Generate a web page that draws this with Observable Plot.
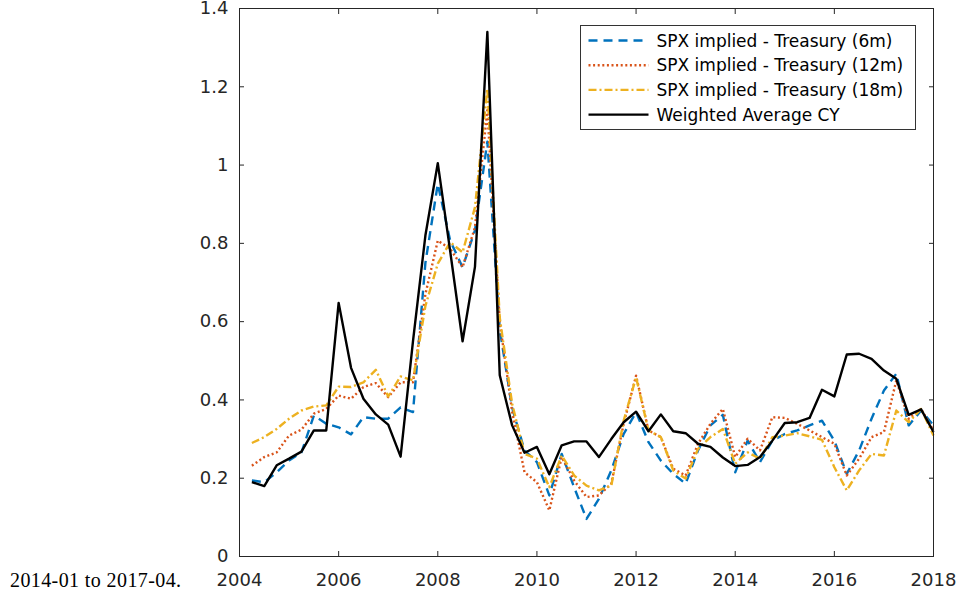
<!DOCTYPE html>
<html>
<head>
<meta charset="utf-8">
<script src="https://cdn.jsdelivr.net/npm/d3@7"></script>
<script src="https://cdn.jsdelivr.net/npm/@observablehq/plot@0.6"></script>
<style>
  html, body { margin: 0; padding: 0; background: #fff; }
  #chart { position: relative; width: 958px; height: 596px; }
</style>
</head>
<body>
<div id="chart"></div>
<script>
// ---- data ----
const quarters = [
  2004.25, 2004.5, 2004.75, 2005.0, 2005.25, 2005.5, 2005.75, 2006.0,
  2006.25, 2006.5, 2006.75, 2007.0, 2007.25, 2007.5, 2007.75, 2008.0,
  2008.25, 2008.5, 2008.75, 2009.0, 2009.25, 2009.5, 2009.75, 2010.0,
  2010.25, 2010.5, 2010.75, 2011.0, 2011.25, 2011.5, 2011.75, 2012.0,
  2012.25, 2012.5, 2012.75, 2013.0, 2013.25, 2013.5, 2013.75, 2014.0,
  2014.25, 2014.5, 2014.75, 2015.0, 2015.25, 2015.5, 2015.75, 2016.0,
  2016.25, 2016.5, 2016.75, 2017.0, 2017.25, 2017.5, 2017.75, 2018.0
];
const spx6m = [
  0.194, 0.190, 0.215, 0.245, 0.266, 0.360, 0.339, 0.330,
  0.312, 0.356, 0.352, 0.352, 0.381, 0.369, 0.750, 0.952,
  0.807, 0.739, 0.833, 1.060, 0.580, 0.380, 0.271, 0.241,
  0.156, 0.262, 0.177, 0.096, 0.147, 0.220, 0.313, 0.369,
  0.292, 0.245, 0.211, 0.186, 0.271, 0.335, 0.362, 0.215,
  0.296, 0.241, 0.296, 0.313, 0.322, 0.335, 0.347, 0.296,
  0.211, 0.271, 0.352, 0.424, 0.467, 0.335, 0.373, 0.335
];
const spx12m = [
  0.232, 0.254, 0.266, 0.309, 0.324, 0.365, 0.377, 0.411,
  0.403, 0.433, 0.443, 0.407, 0.445, 0.445, 0.670, 0.807,
  0.786, 0.739, 0.841, 1.140, 0.600, 0.370, 0.215, 0.190,
  0.118, 0.254, 0.194, 0.152, 0.156, 0.186, 0.339, 0.462,
  0.322, 0.305, 0.224, 0.207, 0.288, 0.339, 0.377, 0.254,
  0.301, 0.271, 0.356, 0.354, 0.339, 0.322, 0.305, 0.288,
  0.207, 0.250, 0.305, 0.318, 0.450, 0.352, 0.377, 0.322
];
const spx18m = [
  0.290, 0.305, 0.326, 0.352, 0.373, 0.383, 0.386, 0.434,
  0.433, 0.445, 0.477, 0.409, 0.460, 0.450, 0.640, 0.748,
  0.803, 0.777, 0.892, 1.195, 0.610, 0.390, 0.262, 0.250,
  0.177, 0.258, 0.207, 0.181, 0.169, 0.181, 0.347, 0.458,
  0.322, 0.305, 0.220, 0.199, 0.275, 0.305, 0.326, 0.237,
  0.266, 0.250, 0.305, 0.309, 0.315, 0.307, 0.298, 0.228,
  0.169, 0.220, 0.262, 0.258, 0.373, 0.343, 0.377, 0.309
];
const weightedCY = [
  0.190, 0.180, 0.233, 0.250, 0.268, 0.322, 0.322, 0.648,
  0.482, 0.403, 0.363, 0.337, 0.255, 0.550, 0.820, 1.005,
  0.780, 0.550, 0.740, 1.340, 0.463, 0.335, 0.265, 0.280,
  0.210, 0.284, 0.294, 0.294, 0.254, 0.300, 0.343, 0.370,
  0.320, 0.363, 0.320, 0.315, 0.288, 0.280, 0.253, 0.231,
  0.234, 0.254, 0.296, 0.341, 0.343, 0.354, 0.426, 0.409,
  0.516, 0.518, 0.505, 0.475, 0.454, 0.362, 0.376, 0.318
];
const seriesNames = [
  "SPX implied - Treasury (6m)",
  "SPX implied - Treasury (12m)",
  "SPX implied - Treasury (18m)",
  "Weighted Average CY"
];
const seriesColors = ["#0072BD", "#D95319", "#EDB120", "#000000"];
const seriesDash = ["9,6", "2,2.6", "8,3,2,3", null];
const xTicks = [2004, 2006, 2008, 2010, 2012, 2014, 2016, 2018];
const yTicks = [0, 0.2, 0.4, 0.6, 0.8, 1.0, 1.2, 1.4];
const yTickLabels = ["0", "0.2", "0.4", "0.6", "0.8", "1", "1.2", "1.4"];
const captionText = "2014-01 to 2017-04.";

// ---- build ----
const allSeries = [spx6m, spx12m, spx18m, weightedCY];
const lineMarks = allSeries.map((vals, i) =>
  Plot.line(quarters.map((q, j) => ({x: q, y: vals[j]})), {
    x: "x", y: "y",
    stroke: seriesColors[i],
    strokeWidth: 2.4,
    strokeDasharray: seriesDash[i] || undefined,
    strokeLinejoin: "round",
    strokeLinecap: "butt"
  })
);

const axisColor = "#262626";
const sansFont = "'DejaVu Sans', 'Liberation Sans', Arial, sans-serif";
const chart = Plot.plot({
  width: 958,
  height: 596,
  marginLeft: 239,
  marginRight: 25,
  marginTop: 8,
  marginBottom: 40,
  x: {domain: [2004, 2018]},
  y: {domain: [0, 1.4]},
  style: {
    fontFamily: sansFont,
    fontSize: "18px",
    color: axisColor,
    background: "#fff",
    overflow: "visible"
  },
  marks: [
    ...lineMarks,
    Plot.axisX({ticks: xTicks, tickSize: -5, tickPadding: 22, tickFormat: d => String(d), label: null, stroke: axisColor}),
    Plot.axisX({anchor: "top", ticks: xTicks, tickSize: -5, tickFormat: () => "", label: null, stroke: axisColor}),
    Plot.axisY({ticks: yTicks, tickSize: -5, tickPadding: 16, tickFormat: d => yTickLabels[yTicks.findIndex(t => Math.abs(t - d) < 1e-9)], label: null, stroke: axisColor}),
    Plot.axisY({anchor: "right", ticks: yTicks, tickSize: -5, tickFormat: () => "", label: null, stroke: axisColor}),
    Plot.frame({stroke: axisColor, strokeWidth: 1})
  ]
});
document.getElementById("chart").appendChild(chart);

// ---- legend and caption ----
const svg = d3.select(chart);
const lg = svg.append("g").attr("transform", "translate(580.5,25.5)");
lg.append("rect").attr("width", 335).attr("height", 104)
  .attr("fill", "#fff").attr("stroke", "#333").attr("stroke-width", 1);
seriesNames.forEach((name, i) => {
  const cy = 15 + i * 24.7;
  lg.append("line").attr("x1", 8).attr("x2", 68).attr("y1", cy).attr("y2", cy)
    .attr("stroke", seriesColors[i]).attr("stroke-width", 2.4)
    .attr("stroke-dasharray", seriesDash[i]);
  lg.append("text").attr("x", 76).attr("y", cy).attr("dy", "0.36em")
    .attr("fill", "#000")
    .attr("text-anchor", "start")
    .style("font-family", sansFont)
    .style("font-size", "17px")
    .text(name);
});
svg.append("text").attr("x", 10).attr("y", 587)
  .attr("fill", "#000")
  .attr("text-anchor", "start")
  .style("font-family", "'Liberation Serif', 'DejaVu Serif', serif")
  .style("font-size", "20px")
  .style("letter-spacing", "0.4px")
  .text(captionText);
</script>
</body>
</html>
